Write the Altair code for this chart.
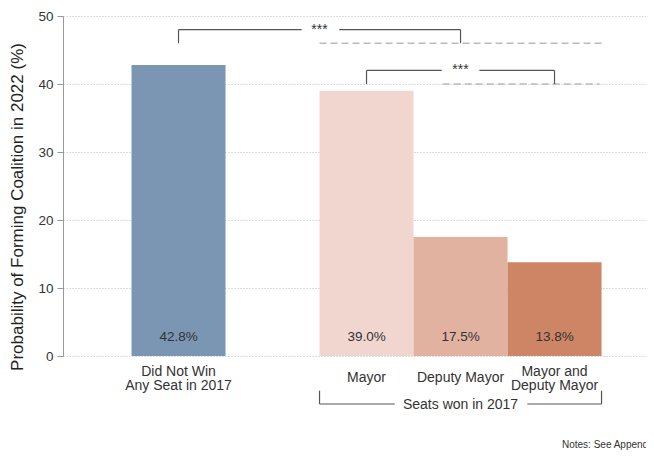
import altair as alt
import pandas as pd

# ---- data ----
categories = ["Did Not Win\nAny Seat in 2017", "Mayor", "Deputy Mayor", "Mayor and\nDeputy Mayor"]
positions = [1, 3, 4, 5]
values = [42.8, 39.0, 17.5, 13.8]
value_labels = ["42.8%", "39.0%", "17.5%", "13.8%"]
bar_colors = ["#7a96b3", "#f0d6cf", "#e2b2a0", "#cd8566"]
y_ticks = [0, 10, 20, 30, 40, 50]

# significance brackets (data units)
br_x = [1, 1, 2.71, 4, 3, 3, 4.2, 5, 2.5, 2.5, 4.71, 5.5]
br_x2 = [1, 2.31, 4, 4, 3, 3.8, 5, 5, 2.5, 3.3, 5.5, 5.5]
br_y = [46, 48, 48, 46, 40, 42, 42, 40, -5.1, -7.06, -7.06, -5.1]
br_y2 = [48, 48, 48, 48, 42, 42, 42, 42, -7.06, -7.06, -7.06, -7.06]

# dashed reference lines
ref_x = [2.5, 3.81]
ref_x2 = [5.5, 5.48]
ref_y = [46, 40]

stars_x = [2.5, 4]
stars_y = [48, 42]
stars_text = ["***", "***"]

group_label = "Seats won in 2017"
group_x = [4]
y_title = "Probability of Forming Coalition in 2022 (%)"
note_text = "Notes: See Appendix"

FONT = "Liberation Sans"
TXT = "#333333"

bars_df = pd.DataFrame({
    "cat": categories,
    "pos": positions,
    "value": values,
    "label": value_labels,
})
bars_df["left"] = bars_df["pos"] - 0.5
bars_df["right"] = bars_df["pos"] + 0.5
bars_df["base"] = 0

br_df = pd.DataFrame({"x": br_x, "x2": br_x2, "y": br_y, "y2": br_y2})
ref_df = pd.DataFrame({"x": ref_x, "x2": ref_x2, "y": ref_y})
stars_df = pd.DataFrame({"x": stars_x, "y": stars_y, "t": stars_text})
group_df = pd.DataFrame({"x": group_x, "t": [group_label]})
note_df = pd.DataFrame({"t": [note_text]})
title_df = pd.DataFrame({"t": [y_title]})

xscale = alt.Scale(domain=[-0.229, 5.973], nice=False, zero=False)
yscale = alt.Scale(domain=[0, 50], nice=False, zero=False)

yaxis = alt.Axis(
    values=y_ticks, tickSize=6, tickColor="#999999", domainColor="#999999",
    labelFontSize=13.5, labelColor=TXT, labelPadding=4,
    grid=True, gridDash=[1, 2], gridColor="#bbbbbb", gridWidth=1,
    title=None,
)

bars = alt.Chart(bars_df).mark_rect().encode(
    x=alt.X("left:Q", scale=xscale, axis=None),
    x2="right:Q",
    y=alt.Y("base:Q", scale=yscale, axis=yaxis),
    y2="value:Q",
    color=alt.Color("cat:N", scale=alt.Scale(domain=categories, range=bar_colors), legend=None),
)

vlabels = alt.Chart(bars_df).mark_text(
    fontSize=13.5, color=TXT, baseline="middle", align="center"
).encode(
    x=alt.X("pos:Q", scale=xscale),
    y=alt.value(321),
    text="label:N",
)

clabels = alt.Chart(bars_df).transform_calculate(
    ypix="362 - (length(split(datum.cat, '\\n')) - 1) * 6.5"
).mark_text(
    fontSize=14, color=TXT, baseline="middle", align="center",
    lineBreak="\n", lineHeight=14,
).encode(
    x=alt.X("pos:Q", scale=xscale),
    y=alt.Y("ypix:Q", scale=None),
    text="cat:N",
)

brackets = alt.Chart(br_df).mark_rule(color="#555555", strokeWidth=1.2).encode(
    x=alt.X("x:Q", scale=xscale),
    x2="x2:Q",
    y=alt.Y("y:Q", scale=yscale),
    y2="y2:Q",
)

refs = alt.Chart(ref_df).mark_rule(color="#bbbbbb", strokeWidth=1.5, strokeDash=[7, 4]).encode(
    x=alt.X("x:Q", scale=xscale),
    x2="x2:Q",
    y=alt.Y("y:Q", scale=yscale),
)

stars = alt.Chart(stars_df).mark_text(
    fontSize=14, color=TXT, baseline="middle", align="center"
).encode(
    x=alt.X("x:Q", scale=xscale),
    y=alt.Y("y:Q", scale=yscale),
    text="t:N",
)

group = alt.Chart(group_df).mark_text(
    fontSize=14, color=TXT, baseline="middle", align="center"
).encode(
    x=alt.X("x:Q", scale=xscale),
    y=alt.value(389),
    text="t:N",
)

ytitle = alt.Chart(title_df).mark_text(
    fontSize=17, color="#222222", baseline="middle", align="center", angle=270
).encode(
    x=alt.value(-45),
    y=alt.value(191),
    text="t:N",
)

note = alt.Chart(note_df).mark_text(
    fontSize=10, color=TXT, baseline="middle", align="left"
).encode(
    x=alt.value(499),
    y=alt.value(429),
    text="t:N",
)

chart = alt.layer(bars, refs, vlabels, clabels, brackets, stars, group, ytitle, note).properties(
    width=583,
    height=340,
    autosize=alt.AutoSizeParams(type="none"),
    padding={"left": 55, "top": 8, "right": 0, "bottom": 94},
).configure(font=FONT).configure_view(stroke=None).configure_axis(labelFont=FONT)

chart.save("out.html", embed_options={"renderer": "svg", "actions": False})
